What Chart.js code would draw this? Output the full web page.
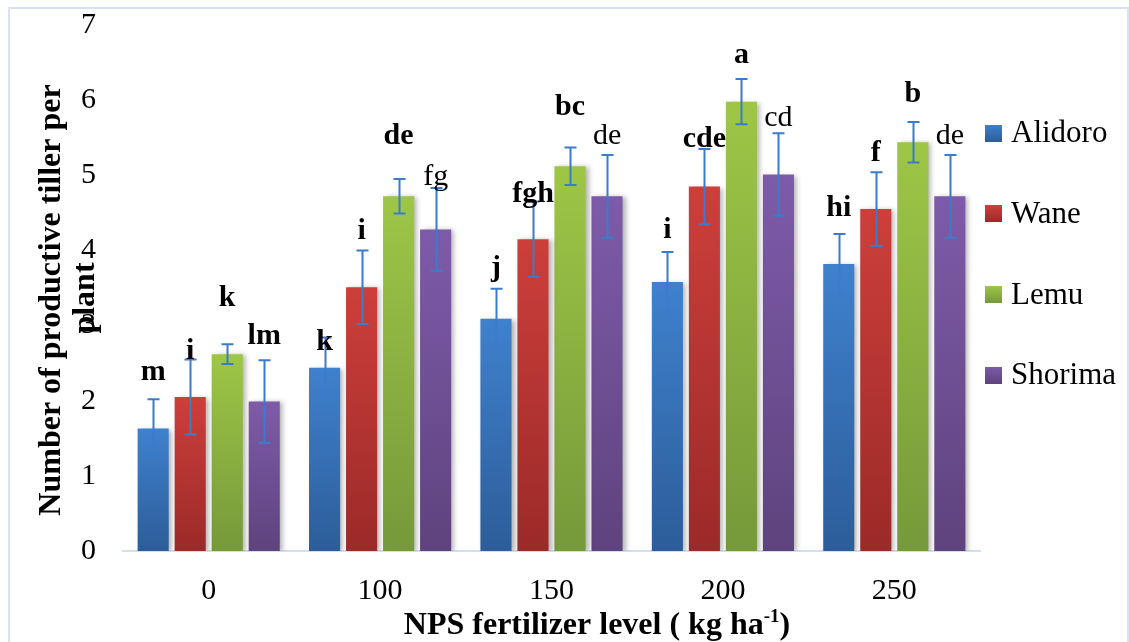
<!DOCTYPE html>
<html>
<head>
<meta charset="utf-8">
<script src="https://cdn.jsdelivr.net/npm/chart.js@4.4.1/dist/chart.umd.min.js"></script>
<style>
  html, body { margin: 0; padding: 0; background: #ffffff; }
  #wrap { position: relative; width: 1129px; height: 642px; }
  canvas { display: block; }
</style>
</head>
<body>
<div id="wrap"><canvas id="c" width="1129" height="642"></canvas></div>
<script>
// ---- data ----
const levels = ['0', '100', '150', '200', '250'];
const varieties = ['Alidoro', 'Wane', 'Lemu', 'Shorima'];

const alidoro = [1.63, 2.44, 3.09, 3.58, 3.82];
const wane    = [2.05, 3.51, 4.15, 4.85, 4.55];
const lemu    = [2.62, 4.72, 5.12, 5.98, 5.44];
const shorima = [1.99, 4.28, 4.72, 5.01, 4.72];

const alidoroErr = [0.39, 0.40, 0.40, 0.40, 0.40];
const waneErr    = [0.50, 0.49, 0.50, 0.50, 0.49];
const lemuErr    = [0.13, 0.23, 0.25, 0.30, 0.27];
const shorimaErr = [0.55, 0.55, 0.55, 0.55, 0.55];

const alidoroLetters = ['m', 'k', 'j', 'i', 'hi'];
const waneLetters    = ['i', 'i', 'fgh', 'cde', 'f'];
const lemuLetters    = ['k', 'de', 'bc', 'a', 'b'];
const shorimaLetters = ['lm', 'fg', 'de', 'cd', 'de'];

// value (y units) at which each letter's baseline sits
const alidoroLetterY = [2.27, 2.67, 3.66, 4.16, 4.46];
const waneLetterY    = [2.56, 4.15, 4.65, 5.38, 5.19];
const lemuLetterY    = [3.26, 5.42, 5.80, 6.49, 5.98];
const shorimaLetterY = [2.76, 4.87, 5.42, 5.65, 5.42];

const yTicks = [0, 1, 2, 3, 4, 5, 6, 7];

// ---- styles ----
const SERIF = '"Liberation Serif", "Times New Roman", serif';
const gradColors = [
  ['#3f81ce', '#2c5d99'],
  ['#cd3f3b', '#9b2a28'],
  ['#9ec646', '#76993a'],
  ['#7e5ba9', '#5e437e']
];
const seriesValues = [alidoro, wane, lemu, shorima];
const seriesErr = [alidoroErr, waneErr, lemuErr, shorimaErr];
const seriesLetters = [alidoroLetters, waneLetters, lemuLetters, shorimaLetters];
const seriesLetterY = [alidoroLetterY, waneLetterY, lemuLetterY, shorimaLetterY];

function letterIsBold(ds, i) {
  return !(ds === 3 && i > 0);
}

function barGradient(context, cols) {
  const chart = context.chart;
  if (!chart.chartArea || !chart.scales.y || context.raw === undefined) return cols[0];
  const y = chart.scales.y;
  const top = y.getPixelForValue(context.raw);
  const bot = y.getPixelForValue(0);
  if (!isFinite(top) || !isFinite(bot) || top === bot) return cols[0];
  const g = chart.ctx.createLinearGradient(0, top, 0, bot);
  g.addColorStop(0, cols[0]);
  g.addColorStop(1, cols[1]);
  return g;
}

const datasets = varieties.map((name, k) => ({
  label: name,
  data: seriesValues[k],
  backgroundColor: (ctx) => barGradient(ctx, gradColors[k]),
  borderWidth: 0,
  categoryPercentage: 0.864,
  barPercentage: 0.84
}));

const decor = {
  id: 'decor',
  beforeDraw(chart) {
    const c = chart.ctx;
    c.save();
    c.fillStyle = '#ffffff';
    c.fillRect(0, 0, chart.width, chart.height);
    c.strokeStyle = '#d7e3f2';
    c.lineWidth = 2;
    c.strokeRect(9, 8, 1119, 700);
    c.restore();
  },
  beforeDatasetsDraw(chart) {
    const c = chart.ctx;
    c.save();
    c.shadowColor = 'rgba(0,0,0,0.30)';
    c.shadowBlur = 5;
    c.shadowOffsetX = 3;
    c.shadowOffsetY = 1;
  },
  afterDatasetsDraw(chart) {
    const c = chart.ctx;
    c.restore();
    const y = chart.scales.y;
    // error bars
    c.save();
    c.strokeStyle = '#3b7bcb';
    c.lineWidth = 2;
    seriesValues.forEach((vals, k) => {
      const meta = chart.getDatasetMeta(k);
      meta.data.forEach((bar, i) => {
        const x = Math.round(bar.x) + 0.5;
        const hi = y.getPixelForValue(vals[i] + seriesErr[k][i]);
        const lo = y.getPixelForValue(vals[i] - seriesErr[k][i]);
        c.beginPath();
        c.moveTo(x, hi); c.lineTo(x, lo);
        c.moveTo(x - 6, hi); c.lineTo(x + 6, hi);
        c.moveTo(x - 6, lo); c.lineTo(x + 6, lo);
        c.stroke();
      });
    });
    c.restore();
    // letters
    c.save();
    c.fillStyle = '#000000';
    c.textAlign = 'center';
    c.textBaseline = 'alphabetic';
    seriesLetters.forEach((letters, k) => {
      const meta = chart.getDatasetMeta(k);
      meta.data.forEach((bar, i) => {
        c.font = (letterIsBold(k, i) ? 'bold ' : '') + '30px ' + SERIF;
        c.fillText(letters[i], bar.x, y.getPixelForValue(seriesLetterY[k][i]));
      });
    });
    c.restore();
  },
  afterDraw(chart) {
    const c = chart.ctx;
    // y-axis title (two lines)
    c.save();
    c.fillStyle = '#000000';
    c.font = 'bold 32px ' + SERIF;
    c.textAlign = 'center';
    c.textBaseline = 'middle';
    c.translate(52, 300);
    c.rotate(-Math.PI / 2);
    c.fillText('Number of productive tiller per', 0, 0);
    c.restore();
    c.save();
    c.fillStyle = '#000000';
    c.font = 'bold 32px ' + SERIF;
    c.textAlign = 'center';
    c.textBaseline = 'middle';
    c.translate(86, 298);
    c.rotate(-Math.PI / 2);
    c.fillText('plant', 0, 0);
    c.restore();
    // x-axis title with superscript
    c.save();
    c.fillStyle = '#000000';
    c.textBaseline = 'alphabetic';
    c.textAlign = 'left';
    const mainFont = 'bold 32px ' + SERIF;
    const supFont = 'bold 19px ' + SERIF;
    const p1 = 'NPS fertilizer level ( kg ha', p2 = '-1', p3 = ')';
    c.font = mainFont; const w1 = c.measureText(p1).width; const w3 = c.measureText(p3).width;
    c.font = supFont; const w2 = c.measureText(p2).width;
    let x = 597 - (w1 + w2 + w3) / 2;
    const base = 634;
    c.font = mainFont; c.fillText(p1, x, base); x += w1;
    c.font = supFont; c.fillText(p2, x, base - 12); x += w2;
    c.font = mainFont; c.fillText(p3, x, base);
    c.restore();
    // legend
    c.save();
    c.font = '31px ' + SERIF;
    c.textAlign = 'left';
    c.textBaseline = 'middle';
    varieties.forEach((name, k) => {
      const cy = 133 + k * 80.7;
      const g = c.createLinearGradient(0, cy - 8.5, 0, cy + 8.5);
      g.addColorStop(0, gradColors[k][0]);
      g.addColorStop(1, gradColors[k][1]);
      c.fillStyle = g;
      c.fillRect(985, Math.round(cy - 8.5), 17, 17);
      c.fillStyle = '#000000';
      c.fillText(name, 1011, cy + 1);
    });
    c.restore();
  }
};

new Chart(document.getElementById('c'), {
  type: 'bar',
  data: { labels: levels, datasets },
  plugins: [decor],
  options: {
    responsive: false,
    animation: false,
    devicePixelRatio: 1,
    layout: { padding: { left: 0, top: 25, right: 149, bottom: 0 } },
    plugins: {
      legend: { display: false },
      tooltip: { enabled: false },
      title: { display: false }
    },
    scales: {
      x: {
        grid: { display: false, drawTicks: false },
        border: { display: true, color: '#d3deee', width: 2 },
        ticks: { color: '#000000', font: { family: SERIF, size: 30 }, padding: 22 },
        afterFit(s) { s.height = 91; s.paddingLeft = 0; s.paddingRight = 0; }
      },
      y: {
        min: 0, max: 7,
        afterBuildTicks(s) { s.ticks = yTicks.map(v => ({ value: v })); },
        grid: { display: false, drawTicks: false },
        border: { display: false },
        ticks: { color: '#000000', font: { family: SERIF, size: 30 }, padding: 27 },
        afterFit(s) { s.width = 123; s.paddingTop = 0; s.paddingBottom = 0; }
      }
    }
  }
});
</script>
</body>
</html>
